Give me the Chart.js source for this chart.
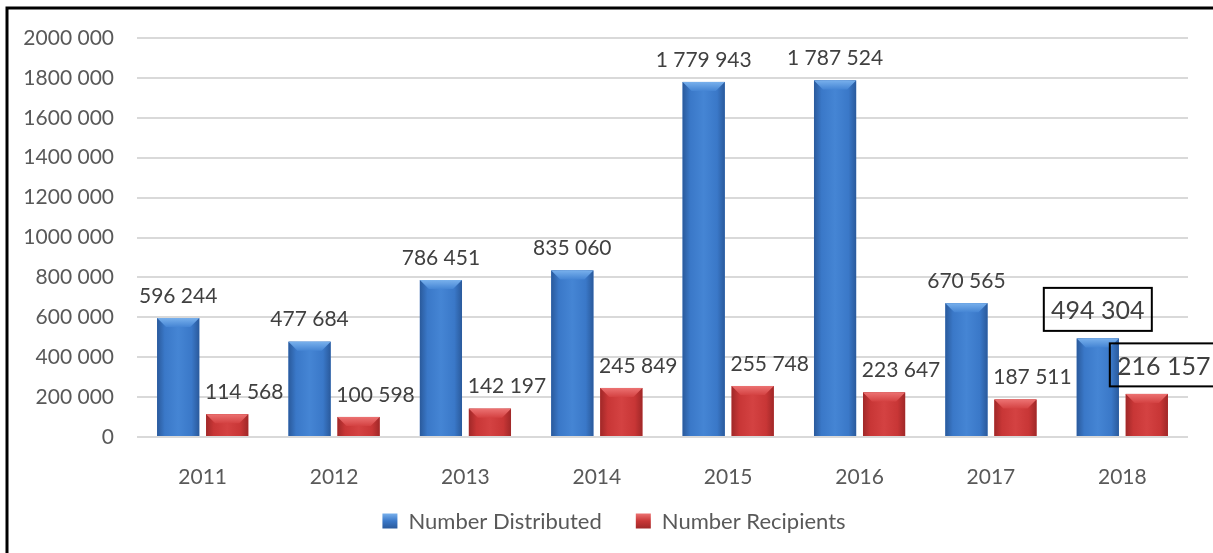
<!DOCTYPE html>
<html>
<head>
<meta charset="utf-8">
<script src="https://cdn.jsdelivr.net/npm/chart.js@4/dist/chart.umd.min.js"></script>
<style>
  html, body { margin: 0; padding: 0; background: #fff; }
  #wrap { width: 1213px; height: 553px; position: relative; }
</style>
</head>
<body>
<div id="wrap"><canvas id="chart"></canvas></div>
<script>
// Data
const years = ['2011', '2012', '2013', '2014', '2015', '2016', '2017', '2018'];
const numberDistributed = [596244, 477684, 786451, 835060, 1779943, 1787524, 670565, 494304];
const numberRecipients = [114568, 100598, 142197, 245849, 255748, 223647, 187511, 216157];
const seriesNames = ['Number Distributed', 'Number Recipients'];
const yTickLabels = ['0', '200 000', '400 000', '600 000', '800 000', '1000 000',
    '1200 000', '1400 000', '1600 000', '1800 000', '2000 000'];

const FONT = 'Lato, "Open Sans", sans-serif';

// colours for the bevelled bars: [edge, body, highlight, top face]
const palette = [
    { edge: '#2a5a9c', body: '#3a78c8', light: '#4585d4', top: '#78b0ec' },
    { edge: '#a02828', body: '#c83636', light: '#d44242', top: '#ec7272' }
];

const spaced = (v) => String(v).replace(/\B(?=(\d{3})+(?!\d))/g, ' ');

// paints each bar (positions come from Chart.js) with a gradient + angled top
const bevelBars = {
    id: 'bevelBars',
    afterDatasetsDraw(chart) {
        const ctx = chart.ctx;
        chart.data.datasets.forEach((ds, di) => {
            const meta = chart.getDatasetMeta(di);
            const col = palette[di];
            meta.data.forEach((bar) => {
                const { x, y, base, width } = bar.getProps(['x', 'y', 'base', 'width'], true);
                const l = x - width / 2, r = x + width / 2;
                const t = y, b = base;
                ctx.save();
                const g = ctx.createLinearGradient(l, 0, r, 0);
                g.addColorStop(0, col.edge);
                g.addColorStop(0.18, col.body);
                g.addColorStop(0.5, col.light);
                g.addColorStop(0.82, col.body);
                g.addColorStop(1, col.edge);
                ctx.fillStyle = g;
                ctx.fillRect(l, t, r - l, b - t);

                const bv = Math.min(9, (b - t) / 2);
                const tg = ctx.createLinearGradient(0, t, 0, t + bv);
                tg.addColorStop(0, col.top);
                tg.addColorStop(1, col.light);
                ctx.fillStyle = tg;
                ctx.beginPath();
                ctx.moveTo(l, t);
                ctx.lineTo(r, t);
                ctx.lineTo(r - bv, t + bv);
                ctx.lineTo(l + bv, t + bv);
                ctx.closePath();
                ctx.fill();
                ctx.restore();
            });
        });
    }
};

// value labels; the last year's labels are boxed like in the original
const valueLabels = {
    id: 'valueLabels',
    afterDatasetsDraw(chart) {
        const ctx = chart.ctx;
        const last = years.length - 1;
        chart.data.datasets.forEach((ds, di) => {
            const meta = chart.getDatasetMeta(di);
            meta.data.forEach((bar, i) => {
                const txt = spaced(ds.data[i]);
                const cx = bar.x + (di === 0 ? 0 : 17);
                ctx.save();
                ctx.textAlign = 'center';
                ctx.textBaseline = 'middle';
                ctx.fillStyle = '#404040';
                if (i === last) {
                    ctx.font = '25px ' + FONT;
                    const cy = bar.y - 29;
                    const w = 108, h = 43;
                    ctx.strokeStyle = '#000';
                    ctx.lineWidth = 2;
                    ctx.strokeRect(cx - w / 2, cy - h / 2, w, h);
                    ctx.fillText(txt, cx, cy + 2);
                } else {
                    ctx.font = '21px ' + FONT;
                    ctx.fillText(txt, cx, bar.y - 22);
                }
                ctx.restore();
            });
        });
    }
};

// legend drawn by hand under the axis, and the black frame
const legendAndFrame = {
    id: 'legendAndFrame',
    afterDraw(chart) {
        const ctx = chart.ctx;
        ctx.save();
        ctx.font = '22px ' + FONT;
        ctx.textBaseline = 'middle';
        const box = 15, gapText = 11, gapItem = 34;
        const widths = seriesNames.map((n) => ctx.measureText(n).width);
        const total = widths.reduce((a, w) => a + box + gapText + w, 0) + gapItem;
        let x = 614 - total / 2;
        const cy = 521;
        seriesNames.forEach((name, i) => {
            const col = palette[i];
            const g = ctx.createLinearGradient(0, cy - box / 2, 0, cy + box / 2);
            g.addColorStop(0, col.top);
            g.addColorStop(0.5, col.body);
            g.addColorStop(1, col.edge);
            ctx.fillStyle = g;
            ctx.fillRect(x, cy - box / 2, box, box);
            x += box + gapText;
            ctx.fillStyle = '#595959';
            ctx.fillText(name, x, cy + 1);
            x += widths[i] + gapItem;
        });
        ctx.strokeStyle = '#000';
        ctx.lineWidth = 3;
        ctx.strokeRect(7, 8, 1400, 800);
        ctx.restore();
    }
};

new Chart(document.getElementById('chart'), {
    type: 'bar',
    data: {
        labels: years,
        datasets: [
            { label: seriesNames[0], data: numberDistributed, backgroundColor: palette[0].body },
            { label: seriesNames[1], data: numberRecipients, backgroundColor: palette[1].body }
        ]
    },
    options: {
        responsive: true,
        maintainAspectRatio: false,
        animation: false,
        events: [],
        categoryPercentage: 0.746,
        barPercentage: 0.86,
        layout: { padding: { left: 0, right: 25, top: 38, bottom: 0 } },
        plugins: {
            legend: { display: false },
            tooltip: { enabled: false }
        },
        scales: {
            x: {
                grid: { display: false },
                border: { display: false },
                ticks: {
                    color: '#595959',
                    font: { family: FONT, size: 21 },
                    padding: 20
                },
                afterFit: (s) => { s.height = 116; }
            },
            y: {
                min: 0,
                max: 2000000,
                grid: { color: '#d9d9d9', lineWidth: 2, drawTicks: false },
                border: { display: false },
                ticks: {
                    stepSize: 200000,
                    color: '#595959',
                    font: { family: FONT, size: 21 },
                    padding: 23,
                    callback: (v, i) => yTickLabels[i]
                },
                afterFit: (s) => { s.width = 137; }
            }
        }
    },
    plugins: [bevelBars, valueLabels, legendAndFrame]
});
</script>
</body>
</html>
